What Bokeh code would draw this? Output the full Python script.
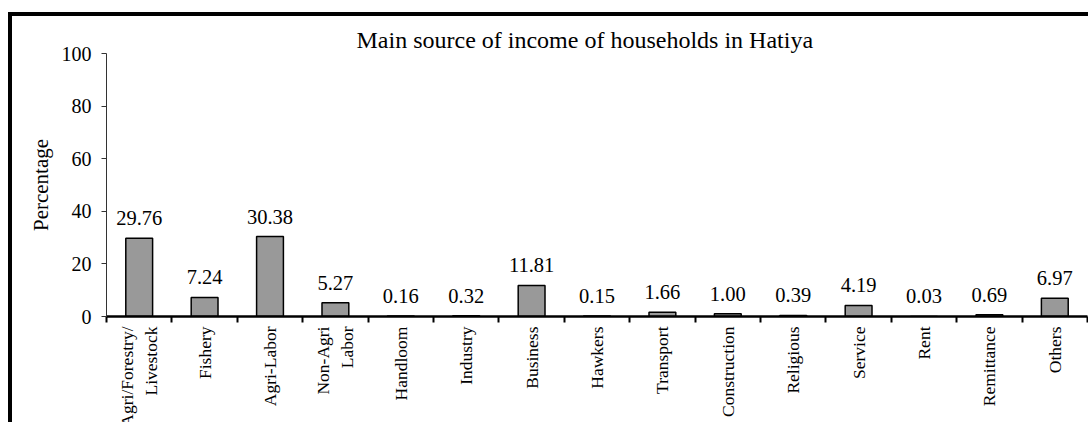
import math

from bokeh.plotting import figure
from bokeh.models import (ColumnDataSource, FactorRange, Range1d, LinearAxis,
                          CategoricalAxis, FixedTicker, CustomJSTickFormatter)
from bokeh.core.properties import value
from bokeh.embed import file_html
from bokeh.resources import INLINE

# Main source of income of households in Hatiya (percentage of households)
categories = ["Agri/Forestry/\nLivestock", "Fishery", "Agri-Labor", "Non-Agri\nLabor",
              "Handloom", "Industry", "Business", "Hawkers", "Transport",
              "Construction", "Religious", "Service", "Rent", "Remittance", "Others"]
percentages = [29.76, 7.24, 30.38, 5.27, 0.16, 0.32, 11.81, 0.15, 1.66,
               1.00, 0.39, 4.19, 0.03, 0.69, 6.97]
y_ticks = [0, 20, 40, 60, 80, 100]

FONT = "Liberation Serif"

source = ColumnDataSource(data=dict(
    cat=categories,
    pct=percentages,
    label=["%.2f" % v for v in percentages],
))

p = figure(
    x_range=FactorRange(*categories),
    y_range=Range1d(0, 100),
    frame_width=981, frame_height=263,
    min_border_left=94, min_border_top=37, min_border_right=1, min_border_bottom=0,
    output_backend="svg", toolbar_location=None,
    x_axis_location=None, y_axis_location=None,
    title="Main source of income of households in Hatiya",
)
p.styles = {"border-left": "4px solid black", "border-top": "4px solid black"}
p.margin = (12, 0, 0, 8)

p.title.text_font = FONT
p.title.text_font_size = "24px"
p.title.text_font_style = "normal"
p.title.text_color = "black"
p.title.align = "left"
p.title.offset = 250
p.title.standoff = 2

p.xgrid.visible = False
p.ygrid.visible = False
p.outline_line_color = None
p.background_fill_color = "white"
p.border_fill_color = "white"

# value axis
yaxis = LinearAxis(ticker=FixedTicker(ticks=y_ticks), axis_label="Percentage")
yaxis.axis_line_color = "#333333"
yaxis.axis_line_width = 1
yaxis.major_tick_line_color = "#333333"
yaxis.major_tick_out = 5
yaxis.major_tick_in = 0
yaxis.minor_tick_line_color = None
yaxis.major_label_standoff = 10
yaxis.major_label_text_font = FONT
yaxis.major_label_text_font_size = "20px"
yaxis.major_label_text_color = "black"
yaxis.axis_label_text_font = FONT
yaxis.axis_label_text_font_size = "21px"
yaxis.axis_label_text_font_style = "normal"
yaxis.axis_label_text_color = "black"
yaxis.axis_label_standoff = 6
p.add_layout(yaxis, "left")

# baseline with tick marks on the category boundaries
edge_axis = LinearAxis(ticker=FixedTicker(ticks=list(range(len(categories) + 1))))
edge_axis.formatter = CustomJSTickFormatter(code="return ''")
edge_axis.axis_line_color = "black"
edge_axis.axis_line_width = 2.5
edge_axis.major_tick_line_color = "black"
edge_axis.major_tick_line_width = 2
edge_axis.major_tick_out = 6
edge_axis.major_tick_in = 0
edge_axis.minor_tick_line_color = None
edge_axis.major_label_text_font_size = "0px"
edge_axis.major_label_standoff = 0
p.add_layout(edge_axis, "below")

# category names, reading upwards
xaxis = CategoricalAxis()
xaxis.axis_line_color = None
xaxis.major_tick_line_color = None
xaxis.major_tick_out = 0
xaxis.major_tick_in = 0
xaxis.major_label_orientation = math.pi / 2
xaxis.major_label_standoff = 4
xaxis.major_label_text_font = FONT
xaxis.major_label_text_font_size = "17.5px"
xaxis.major_label_text_color = "black"
xaxis.major_label_text_line_height = 1.2
p.add_layout(xaxis, "below")

p.vbar(x="cat", top="pct", width=0.41, source=source,
       fill_color="#999999", line_color="black", line_width=1.5)

p.text(x="cat", y="pct", text="label", source=source,
       text_font=value(FONT), text_font_size="20.5px", text_color="black",
       text_align="center", text_baseline="alphabetic", y_offset=-20)

html = file_html(p, INLINE, title="Main source of income of households in Hatiya")
html = html.replace("<head>", "<head><style>html,body{margin:0;overflow:hidden;}</style>", 1)
open("out.html", "w").write(html)
